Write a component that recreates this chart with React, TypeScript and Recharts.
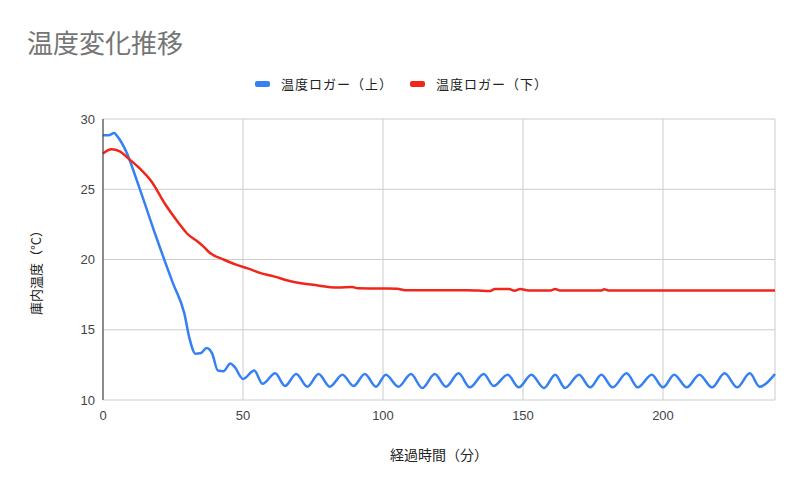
import { LineChart, Line, XAxis, YAxis, CartesianGrid } from 'recharts'

const title = '温度変化推移'
const xLabel = '経過時間（分）'
const yLabel = '庫内温度（°C）'

const seriesNames = ['温度ロガー（上）', '温度ロガー（下）']
const seriesColors = ['#3580f2', '#f0261b']

const xTicks = [0, 50, 100, 150, 200]
const yTicks = [10, 15, 20, 25, 30]

// 温度ロガー(上): [分, °C]
const upperTimes = [
  0, 2, 4, 5, 8, 13, 19, 25, 29, 31, 33, 35, 37, 39, 41, 43, 45.5, 47, 50, 54,
  57, 61.5, 65, 69, 73, 77, 81, 85.5, 89.5, 93.5, 97.5, 101, 105.5, 110, 114,
  118.5, 122.5, 127, 131, 136, 139.5, 144.5, 148.5, 153, 157.5, 161.5, 165, 170,
  174, 178, 182, 187, 191, 196, 200, 204, 208.5, 213, 217.5, 222, 226.5, 231,
  234.5, 240,
]
const upperTemps = [
  28.85, 28.85, 29.0, 28.8, 27.8, 25.1, 21.6, 18.3, 16.2, 14.3, 13.3, 13.35, 13.7,
  13.3, 12.1, 12.05, 12.6, 12.35, 11.5, 12.1, 11.15, 11.9, 11.0, 11.85, 10.95,
  11.85, 10.95, 11.8, 11.0, 11.85, 10.95, 11.8, 10.95, 11.85, 10.85, 11.85, 10.95,
  11.9, 10.9, 11.85, 11.0, 11.8, 10.9, 11.8, 10.85, 11.8, 10.85, 11.8, 10.9, 11.8,
  10.9, 11.9, 10.9, 11.8, 10.9, 11.8, 10.9, 11.8, 10.9, 11.9, 10.9, 11.9, 10.95,
  11.85,
]

// 温度ロガー(下): [分, °C]
const lowerTimes = [
  0, 3, 6, 9, 13, 17.5, 22, 27, 30, 34, 36, 38, 43, 48, 52, 56, 61, 67, 75, 84,
  89, 91, 100, 105, 108, 130, 138, 140, 145, 147, 149, 152, 160, 161.5, 163, 178,
  179, 180.5, 240,
]
const lowerTemps = [
  27.55, 27.85, 27.7, 27.2, 26.5, 25.5, 24.0, 22.6, 21.85, 21.25, 20.9, 20.5, 20.0,
  19.6, 19.35, 19.05, 18.8, 18.45, 18.2, 18.0, 18.05, 17.95, 17.93, 17.92, 17.82,
  17.82, 17.75, 17.9, 17.9, 17.78, 17.9, 17.8, 17.8, 17.9, 17.8, 17.8, 17.88, 17.8,
  17.8,
]

const upperData = upperTimes.map((t, i) => ({ t, v: upperTemps[i] }))
const lowerData = lowerTimes.map((t, i) => ({ t, v: lowerTemps[i] }))

const font = "Arial, 'Liberation Sans', 'Noto Sans CJK JP', sans-serif"
const cjkFont = "'Noto Sans CJK JP', Arial, sans-serif"

const YLabel = ({ viewBox }: any) => {
  const x = viewBox.x + 35
  const y = viewBox.y + viewBox.height / 2 + 10
  return (
    <text
      x={x}
      y={y}
      transform={`rotate(-90 ${x} ${y})`}
      textAnchor="middle"
      dominantBaseline="central"
      fontSize={13}
      fill="#222"
      fontFamily={cjkFont}
    >
      {yLabel}
    </text>
  )
}

const App = () => {
  return (
    <div
      style={{
        position: 'absolute',
        left: 0,
        top: 0,
        width: 800,
        height: 495,
        background: '#fff',
        fontFamily: font,
      }}
    >
      <div
        style={{
          position: 'absolute',
          left: 27,
          top: 23,
          fontSize: 26,
          color: '#757575',
          fontFamily: cjkFont,
          whiteSpace: 'nowrap',
        }}
      >
        {title}
      </div>
      <div
        style={{
          position: 'absolute',
          left: 255,
          top: 74,
          display: 'flex',
          alignItems: 'center',
          fontSize: 13,
          letterSpacing: 1,
          color: '#222',
          fontFamily: cjkFont,
          whiteSpace: 'nowrap',
        }}
      >
        {seriesNames.map((name, i) => (
          <div
            key={name}
            style={{ display: 'flex', alignItems: 'center', marginRight: 17 }}
          >
            <span
              style={{
                display: 'inline-block',
                width: 15,
                height: 6,
                borderRadius: 2,
                background: seriesColors[i],
                marginRight: 11,
              }}
            />
            <span>{name}</span>
          </div>
        ))}
      </div>
      <LineChart
        width={800}
        height={495}
        margin={{ top: 119, right: 25, left: 0, bottom: 35 }}
        style={{ position: 'absolute', left: 0, top: 0 }}
      >
        <CartesianGrid stroke="#cccccc" strokeWidth={1} />
        <XAxis
          dataKey="t"
          type="number"
          domain={[0, 240]}
          ticks={xTicks}
          allowDuplicatedCategory={false}
          axisLine={false}
          tickLine={false}
          tickMargin={5}
          height={60}
          tick={{ fontSize: 13, fill: '#444', fontFamily: font }}
          label={{
            value: xLabel,
            position: 'insideBottom',
            offset: 0,
            fontSize: 14,
            fill: '#222',
            fontFamily: cjkFont,
          }}
        />
        <YAxis
          type="number"
          domain={[10, 30]}
          ticks={yTicks}
          width={103}
          axisLine={{ stroke: '#333', strokeWidth: 1 }}
          tickLine={false}
          tick={{ fontSize: 13, fill: '#444', fontFamily: font }}
          label={<YLabel />}
        />
        <Line
          data={upperData}
          dataKey="v"
          type="monotone"
          stroke={seriesColors[0]}
          strokeWidth={2.5}
          dot={false}
          isAnimationActive={false}
        />
        <Line
          data={lowerData}
          dataKey="v"
          type="monotone"
          stroke={seriesColors[1]}
          strokeWidth={2.5}
          dot={false}
          isAnimationActive={false}
        />
      </LineChart>
    </div>
  )
}

export default App
